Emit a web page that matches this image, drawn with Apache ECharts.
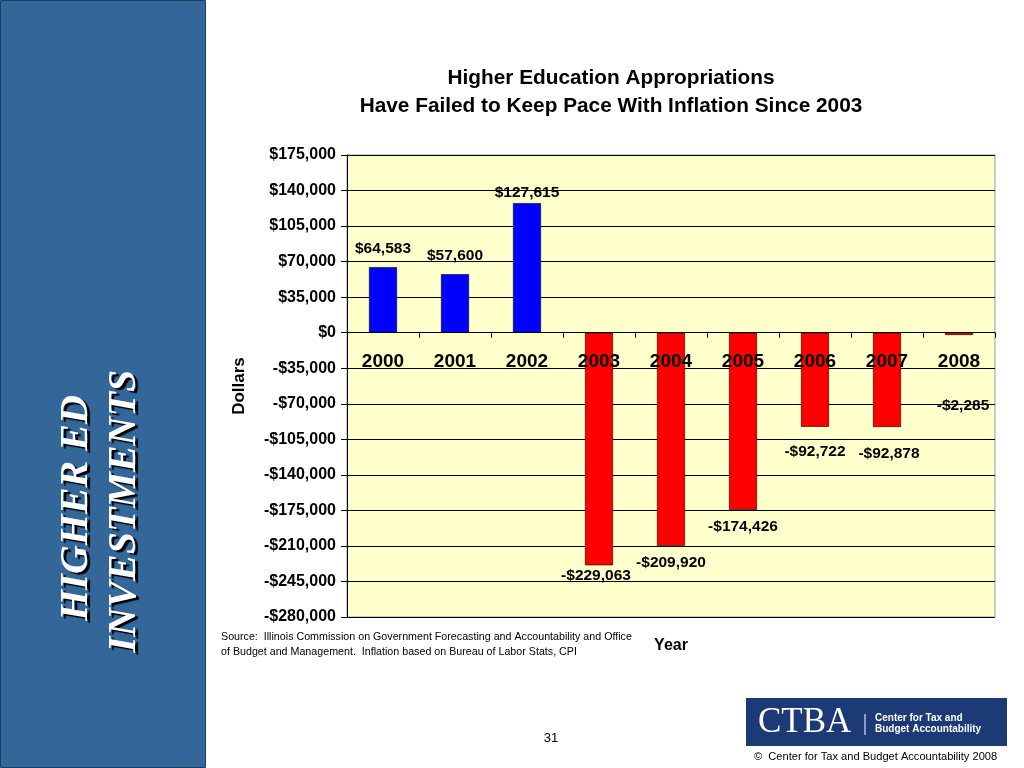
<!DOCTYPE html>
<html>
<head>
<meta charset="utf-8">
<script src="https://cdn.jsdelivr.net/npm/echarts@6/dist/echarts.min.js"></script>
<style>
html, body { margin: 0; padding: 0; background: #ffffff; }
#chart { width: 1024px; height: 768px; }
</style>
</head>
<body>
<div id="chart"></div>
<script>
// ---- data ----
const years = ['2000', '2001', '2002', '2003', '2004', '2005', '2006', '2007', '2008'];
const values = [64583, 57600, 127615, -229063, -209920, -174426, -92722, -92878, -2285];
const yMin = -280000;
const yMax = 175000;
const yStep = 35000;
const titleText = 'Higher Education Appropriations\nHave Failed to Keep Pace With Inflation Since 2003';
const yAxisName = 'Dollars';
const xAxisName = 'Year';
const sideTitle = ['HIGHER ED', 'INVESTMENTS'];
const sourceLines = [
  'Source:  Illinois Commission on Government Forecasting and Accountability and Office',
  'of Budget and Management.  Inflation based on Bureau of Labor Stats, CPI'
];
const pageNumber = '31';
const logoMark = 'CTBA';
const logoName = ['Center for Tax and', 'Budget Accountability'];
const copyright = '\u00A9  Center for Tax and Budget Accountability 2008';

// ---- helpers ----
function money(v) {
  return (v < 0 ? '-' : '') + '$' + Math.abs(v).toLocaleString('en-US');
}

const FONT = '"Liberation Sans", Arial, sans-serif';
const labelNudge = { 2: [0, 8], 3: [-3, -7], 6: [0, 8], 7: [2, 10], 8: [4, 54] };

const barData = values.map(function (v, i) {
  const n = labelNudge[i] || [0, 0];
  return {
    value: v,
    itemStyle: { color: v >= 0 ? '#0000FF' : '#FF0000' },
    label: {
      position: v >= 0 ? 'top' : 'bottom',
      distance: v >= 0 ? 10 : 9,
      offset: n
    }
  };
});

const chart = echarts.init(document.getElementById('chart'), null, { renderer: 'canvas' });

const option = {
  backgroundColor: '#ffffff',
  animation: false,
  title: {
    text: titleText,
    left: 606,
    top: 59,
    textAlign: 'center',
    textStyle: { fontFamily: FONT, fontSize: 20.8, fontWeight: 'bold', color: '#000', lineHeight: 28 }
  },
  grid: {
    left: 347, right: 29, top: 155, bottom: 151,
    show: true,
    backgroundColor: '#FFFFCC',
    borderColor: '#9a9a9a',
    borderWidth: 1
  },
  xAxis: {
    type: 'category',
    data: years,
    z: 10,
    axisLine: { onZero: false, lineStyle: { color: '#000', width: 1 } },
    axisTick: { show: true, length: 5, lineStyle: { color: '#000' } },
    axisLabel: { margin: 20, fontFamily: FONT, fontSize: 19, fontWeight: 'bold', color: '#000' },
    splitLine: { show: false }
  },
  yAxis: {
    type: 'value',
    min: yMin,
    max: yMax,
    interval: yStep,
    name: yAxisName,
    nameLocation: 'middle',
    nameGap: 99,
    nameRotate: 90,
    nameTextStyle: { fontFamily: FONT, fontSize: 17, fontWeight: 'bold', color: '#000' },
    axisLine: { show: true, lineStyle: { color: '#000', width: 1 } },
    axisTick: { show: true, length: 6, lineStyle: { color: '#000' } },
    axisLabel: {
      margin: 11,
      fontFamily: FONT, fontSize: 16, fontWeight: 'bold', color: '#000',
      formatter: function (v) { return money(v); }
    },
    splitLine: { show: true, lineStyle: { color: '#000', width: 1 } }
  },
  series: [{
    type: 'bar',
    data: barData,
    barWidth: 28,
    itemStyle: { borderColor: '#000', borderWidth: 0.6 },
    label: {
      show: true,
      fontFamily: FONT, fontSize: 15.5, fontWeight: 'bold', color: '#000',
      formatter: function (p) { return money(p.value); }
    }
  }],
  graphic: [
    // side panel
    { type: 'rect', shape: { x: 0.5, y: 0.5, width: 205, height: 767 },
      style: { fill: '#336699', stroke: '#1e3d60', lineWidth: 1 }, z: 0 },
    { type: 'text', x: 77, y: 508, rotation: Math.PI / 2, z: 5,
      style: { text: sideTitle[0], fill: '#ffffff', font: 'italic bold 40px "Liberation Serif", "Times New Roman", serif',
        align: 'center', verticalAlign: 'middle',
        textShadowColor: '#000', textShadowOffsetX: 3, textShadowOffsetY: 2, textShadowBlur: 1 } },
    { type: 'text', x: 125, y: 511, rotation: Math.PI / 2, z: 5,
      style: { text: sideTitle[1], fill: '#ffffff', font: 'italic bold 40px "Liberation Serif", "Times New Roman", serif',
        align: 'center', verticalAlign: 'middle',
        textShadowColor: '#000', textShadowOffsetX: 3, textShadowOffsetY: 2, textShadowBlur: 1 } },
    // source note
    { type: 'text', x: 221, y: 637, z: 5,
      style: { text: sourceLines[0], fill: '#000', font: '10.7px "Liberation Sans", Arial, sans-serif', verticalAlign: 'middle' } },
    { type: 'text', x: 221, y: 652, z: 5,
      style: { text: sourceLines[1], fill: '#000', font: '10.7px "Liberation Sans", Arial, sans-serif', verticalAlign: 'middle' } },
    // x axis name
    { type: 'text', x: 671, y: 646, z: 5,
      style: { text: xAxisName, fill: '#000', font: 'bold 16px "Liberation Sans", Arial, sans-serif', align: 'center', verticalAlign: 'middle' } },
    // page number
    { type: 'text', x: 551, y: 738, z: 5,
      style: { text: pageNumber, fill: '#000', font: '13px "Liberation Sans", Arial, sans-serif', align: 'center', verticalAlign: 'middle' } },
    // logo
    { type: 'rect', shape: { x: 746, y: 698, width: 261, height: 48 }, style: { fill: '#1c3a76' }, z: 5 },
    { type: 'text', x: 758, y: 723, z: 6,
      style: { text: logoMark, fill: '#ffffff', font: '35px "Liberation Serif", "Times New Roman", serif', verticalAlign: 'middle' } },
    { type: 'line', shape: { x1: 865, y1: 714, x2: 865, y2: 735 }, style: { stroke: '#ffffff', lineWidth: 1 }, z: 6 },
    { type: 'text', x: 875, y: 718, z: 6,
      style: { text: logoName[0], fill: '#ffffff', font: 'bold 10px "Liberation Sans", Arial, sans-serif', verticalAlign: 'middle' } },
    { type: 'text', x: 875, y: 729, z: 6,
      style: { text: logoName[1], fill: '#ffffff', font: 'bold 10px "Liberation Sans", Arial, sans-serif', verticalAlign: 'middle' } },
    // copyright
    { type: 'text', x: 754, y: 757, z: 5,
      style: { text: copyright, fill: '#000', font: '11.1px "Liberation Sans", Arial, sans-serif', verticalAlign: 'middle' } }
  ]
};

chart.setOption(option);

// Move the category axis (line, ticks and labels) up to the value axis zero line.
const zeroY = chart.convertToPixel({ yAxisIndex: 0 }, 0);
const baseY = chart.convertToPixel({ yAxisIndex: 0 }, yMin);
chart.setOption({ xAxis: { offset: zeroY - baseY } });
</script>
</body>
</html>
